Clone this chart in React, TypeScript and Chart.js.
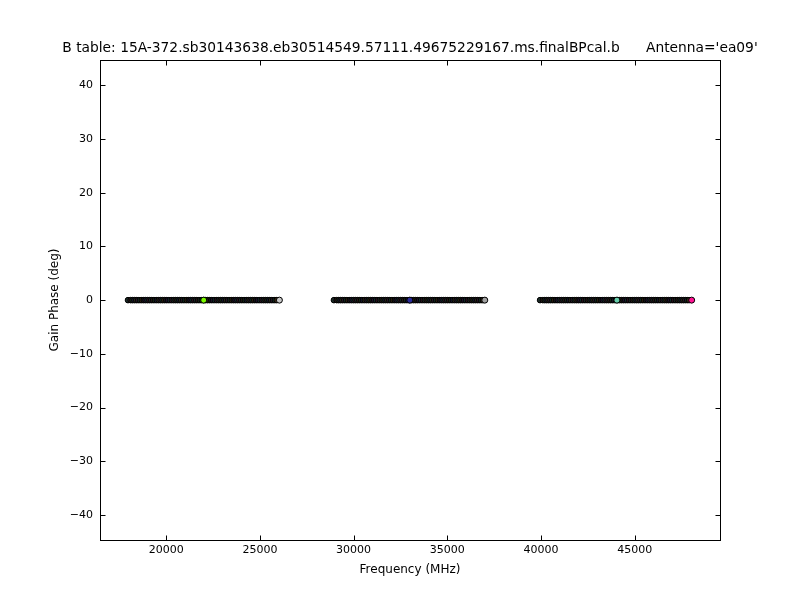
import React, { useEffect, useRef } from 'react';
import { Chart, registerables } from 'chart.js';

Chart.register(...registerables);

const FONT = "'DejaVu Sans', 'Liberation Sans', sans-serif";

const chartTitle =
  "B table: 15A-372.sb30143638.eb30514549.57111.49675229167.ms.finalBPcal.b      Antenna='ea09'";
const xAxisTitle = 'Frequency (MHz)';
const yAxisTitle = 'Gain Phase (deg)';

const xMin = 16466;
const xMax = 49552;
const yMin = -44.65;
const yMax = 44.7;
const xTickValues = [20000, 25000, 30000, 35000, 40000, 45000];
const yTickValues = [-40, -30, -20, -10, 0, 10, 20, 30, 40];

// Channel frequencies (MHz), three basebands
const band1Freq = [
  17960, 18100, 18200, 18300, 18400, 18500, 18600, 18700, 18800, 18900,
  19000, 19100, 19200, 19300, 19400, 19500, 19600, 19700, 19800, 19900,
  20000, 20100, 20200, 20300, 20400, 20500, 20600, 20700, 20800, 20900,
  21000, 21100, 21200, 21300, 21400, 21500, 21600, 21700, 21800, 21900,
  22000, 22100, 22200, 22300, 22400, 22500, 22600, 22700, 22800, 22900,
  23000, 23100, 23200, 23300, 23400, 23500, 23600, 23700, 23800, 23900,
  24000, 24100, 24200, 24300, 24400, 24500, 24600, 24700, 24800, 24900,
  25000, 25100, 25200, 25300, 25400, 25500, 25600, 25700, 25800, 25900,
];
const band1Phase = [
  0, 0, 0, 0, 0, 0, 0, 0, 0, 0,
  0, 0, 0, 0, 0, 0, 0, 0, 0, 0,
  0, 0, 0, 0, 0, 0, 0, 0, 0, 0,
  0, 0, 0, 0, 0, 0, 0, 0, 0, 0,
  0, 0, 0, 0, 0, 0, 0, 0, 0, 0,
  0, 0, 0, 0, 0, 0, 0, 0, 0, 0,
  0, 0, 0, 0, 0, 0, 0, 0, 0, 0,
  0, 0, 0, 0, 0, 0, 0, 0, 0, 0,
];

const band2Freq = [
  28950, 29100, 29200, 29300, 29400, 29500, 29600, 29700, 29800, 29900,
  30000, 30100, 30200, 30300, 30400, 30500, 30600, 30700, 30800, 30900,
  31000, 31100, 31200, 31300, 31400, 31500, 31600, 31700, 31800, 31900,
  32000, 32100, 32200, 32300, 32400, 32500, 32600, 32700, 32800, 32900,
  33000, 33100, 33200, 33300, 33400, 33500, 33600, 33700, 33800, 33900,
  34000, 34100, 34200, 34300, 34400, 34500, 34600, 34700, 34800, 34900,
  35000, 35100, 35200, 35300, 35400, 35500, 35600, 35700, 35800, 35900,
  36000, 36100, 36200, 36300, 36400, 36500, 36600, 36700, 36800, 36900,
];
const band2Phase = [
  0, 0, 0, 0, 0, 0, 0, 0, 0, 0,
  0, 0, 0, 0, 0, 0, 0, 0, 0, 0,
  0, 0, 0, 0, 0, 0, 0, 0, 0, 0,
  0, 0, 0, 0, 0, 0, 0, 0, 0, 0,
  0, 0, 0, 0, 0, 0, 0, 0, 0, 0,
  0, 0, 0, 0, 0, 0, 0, 0, 0, 0,
  0, 0, 0, 0, 0, 0, 0, 0, 0, 0,
  0, 0, 0, 0, 0, 0, 0, 0, 0, 0,
];

const band3Freq = [
  39950, 40100, 40200, 40300, 40400, 40500, 40600, 40700, 40800, 40900,
  41000, 41100, 41200, 41300, 41400, 41500, 41600, 41700, 41800, 41900,
  42000, 42100, 42200, 42300, 42400, 42500, 42600, 42700, 42800, 42900,
  43000, 43100, 43200, 43300, 43400, 43500, 43600, 43700, 43800, 43900,
  44000, 44100, 44200, 44300, 44400, 44500, 44600, 44700, 44800, 44900,
  45000, 45100, 45200, 45300, 45400, 45500, 45600, 45700, 45800, 45900,
  46000, 46100, 46200, 46300, 46400, 46500, 46600, 46700, 46800, 46900,
  47000, 47100, 47200, 47300, 47400, 47500, 47600, 47700, 47800, 47900,
];
const band3Phase = [
  0, 0, 0, 0, 0, 0, 0, 0, 0, 0,
  0, 0, 0, 0, 0, 0, 0, 0, 0, 0,
  0, 0, 0, 0, 0, 0, 0, 0, 0, 0,
  0, 0, 0, 0, 0, 0, 0, 0, 0, 0,
  0, 0, 0, 0, 0, 0, 0, 0, 0, 0,
  0, 0, 0, 0, 0, 0, 0, 0, 0, 0,
  0, 0, 0, 0, 0, 0, 0, 0, 0, 0,
  0, 0, 0, 0, 0, 0, 0, 0, 0, 0,
];

// Points that are drawn on top (visible in full)
const topFreq = [22000, 26040, 33000, 37000, 44050, 48040];
const topPhase = [0, 0, 0, 0, 0, 0];
const topColors = ['#7cfc00', '#c8c8c8', '#2a2a9a', '#a0a0a0', '#66cdaa', '#ff1493'];

const channelPalette = [
  '#1e2e2a', '#2e1c1c', '#1c2e1c', '#1c1c36', '#2e2e1c', '#2e1c2e',
  '#163026', '#362614', '#1a1a1a', '#261636', '#163434', '#341626',
];

const toPoints = (xs: number[], ys: number[]) => xs.map((x, i) => ({ x, y: ys[i] }));

const fmtX = (v: number) => String(v);
const fmtY = (v: number) => (v < 0 ? '\u2212' + Math.abs(v) : String(v));

const framePlugin = {
  id: 'frameAndTicks',
  afterDraw(chart: any) {
    const { ctx, chartArea } = chart;
    const l = Math.round(chartArea.left) + 0.5;
    const r = Math.round(chartArea.right) + 0.5;
    const t = Math.round(chartArea.top) + 0.5;
    const b = Math.round(chartArea.bottom) + 0.5;
    ctx.save();
    ctx.strokeStyle = '#000';
    ctx.lineWidth = 1;
    ctx.strokeRect(l, t, r - l, b - t);
    const tl = 5;
    ctx.beginPath();
    chart.scales.x.ticks.forEach((tk: any) => {
      const px = Math.round(chart.scales.x.getPixelForValue(tk.value)) + 0.5;
      ctx.moveTo(px, b);
      ctx.lineTo(px, b - tl);
      ctx.moveTo(px, t);
      ctx.lineTo(px, t + tl);
    });
    chart.scales.y.ticks.forEach((tk: any) => {
      const py = Math.round(chart.scales.y.getPixelForValue(tk.value)) + 0.5;
      ctx.moveTo(l, py);
      ctx.lineTo(l + tl, py);
      ctx.moveTo(r, py);
      ctx.lineTo(r - tl, py);
    });
    ctx.stroke();
    ctx.fillStyle = '#000';
    ctx.font = `13.8px ${FONT}`;
    ctx.textAlign = 'center';
    ctx.textBaseline = 'middle';
    ctx.fillText(chartTitle, (chartArea.left + chartArea.right) / 2, 48);
    ctx.restore();
  },
};

export default function App() {
  const ref = useRef<HTMLCanvasElement | null>(null);

  useEffect(() => {
    if (!ref.current) return;
    const bandDataset = (xs: number[], ys: number[]) => ({
      type: 'scatter' as const,
      data: toPoints(xs, ys),
      order: 1,
      pointRadius: 2.8,
      pointBorderWidth: 1,
      pointBorderColor: '#000',
      pointBackgroundColor: xs.map((_, i) => channelPalette[i % channelPalette.length]),
      showLine: false,
    });
    const chart = new Chart(ref.current, {
      type: 'scatter',
      data: {
        datasets: [
          {
            type: 'scatter',
            data: toPoints(topFreq, topPhase),
            order: 0,
            pointRadius: 3,
            pointBorderWidth: 1,
            pointBorderColor: '#000',
            pointBackgroundColor: topColors,
            showLine: false,
          },
          bandDataset(band1Freq, band1Phase),
          bandDataset(band2Freq, band2Phase),
          bandDataset(band3Freq, band3Phase),
        ] as any,
      },
      options: {
        animation: false,
        responsive: false,
        maintainAspectRatio: false,
        layout: { padding: { left: 0, right: 80, top: 60, bottom: 0 } },
        plugins: {
          legend: { display: false },
          tooltip: { enabled: false },
          title: { display: false },
        },
        scales: {
          x: {
            type: 'linear',
            min: xMin,
            max: xMax,
            grid: { display: false, drawTicks: false },
            border: { display: false },
            afterBuildTicks: (s: any) => {
              s.ticks = xTickValues.map((v) => ({ value: v }));
            },
            ticks: {
              autoSkip: false,
              padding: 4,
              maxRotation: 0,
              color: '#000',
              font: { family: FONT, size: 11 },
              callback: (v: any) => fmtX(Number(v)),
            },
            title: {
              display: true,
              text: xAxisTitle,
              color: '#000',
              font: { family: FONT, size: 12 },
              padding: { top: 0, bottom: 23 },
            },
            afterFit: (s: any) => {
              s.height = 60;
            },
          },
          y: {
            type: 'linear',
            min: yMin,
            max: yMax,
            grid: { display: false, drawTicks: false },
            border: { display: false },
            afterBuildTicks: (s: any) => {
              s.ticks = yTickValues.map((v) => ({ value: v }));
            },
            ticks: {
              autoSkip: false,
              padding: 7,
              color: '#000',
              font: { family: FONT, size: 11 },
              callback: (v: any) => fmtY(Number(v)),
            },
            title: {
              display: true,
              text: yAxisTitle,
              color: '#000',
              font: { family: FONT, size: 12 },
              padding: { top: 48, bottom: 0 },
            },
            afterFit: (s: any) => {
              s.width = 100;
            },
          },
        },
      },
      plugins: [framePlugin],
    });
    return () => chart.destroy();
  }, []);

  return (
    <div style={{ position: 'fixed', left: 0, top: 0, width: 800, height: 600, background: '#fff' }}>
      <canvas ref={ref} width={800} height={600} style={{ width: 800, height: 600, display: 'block' }} />
    </div>
  );
}
